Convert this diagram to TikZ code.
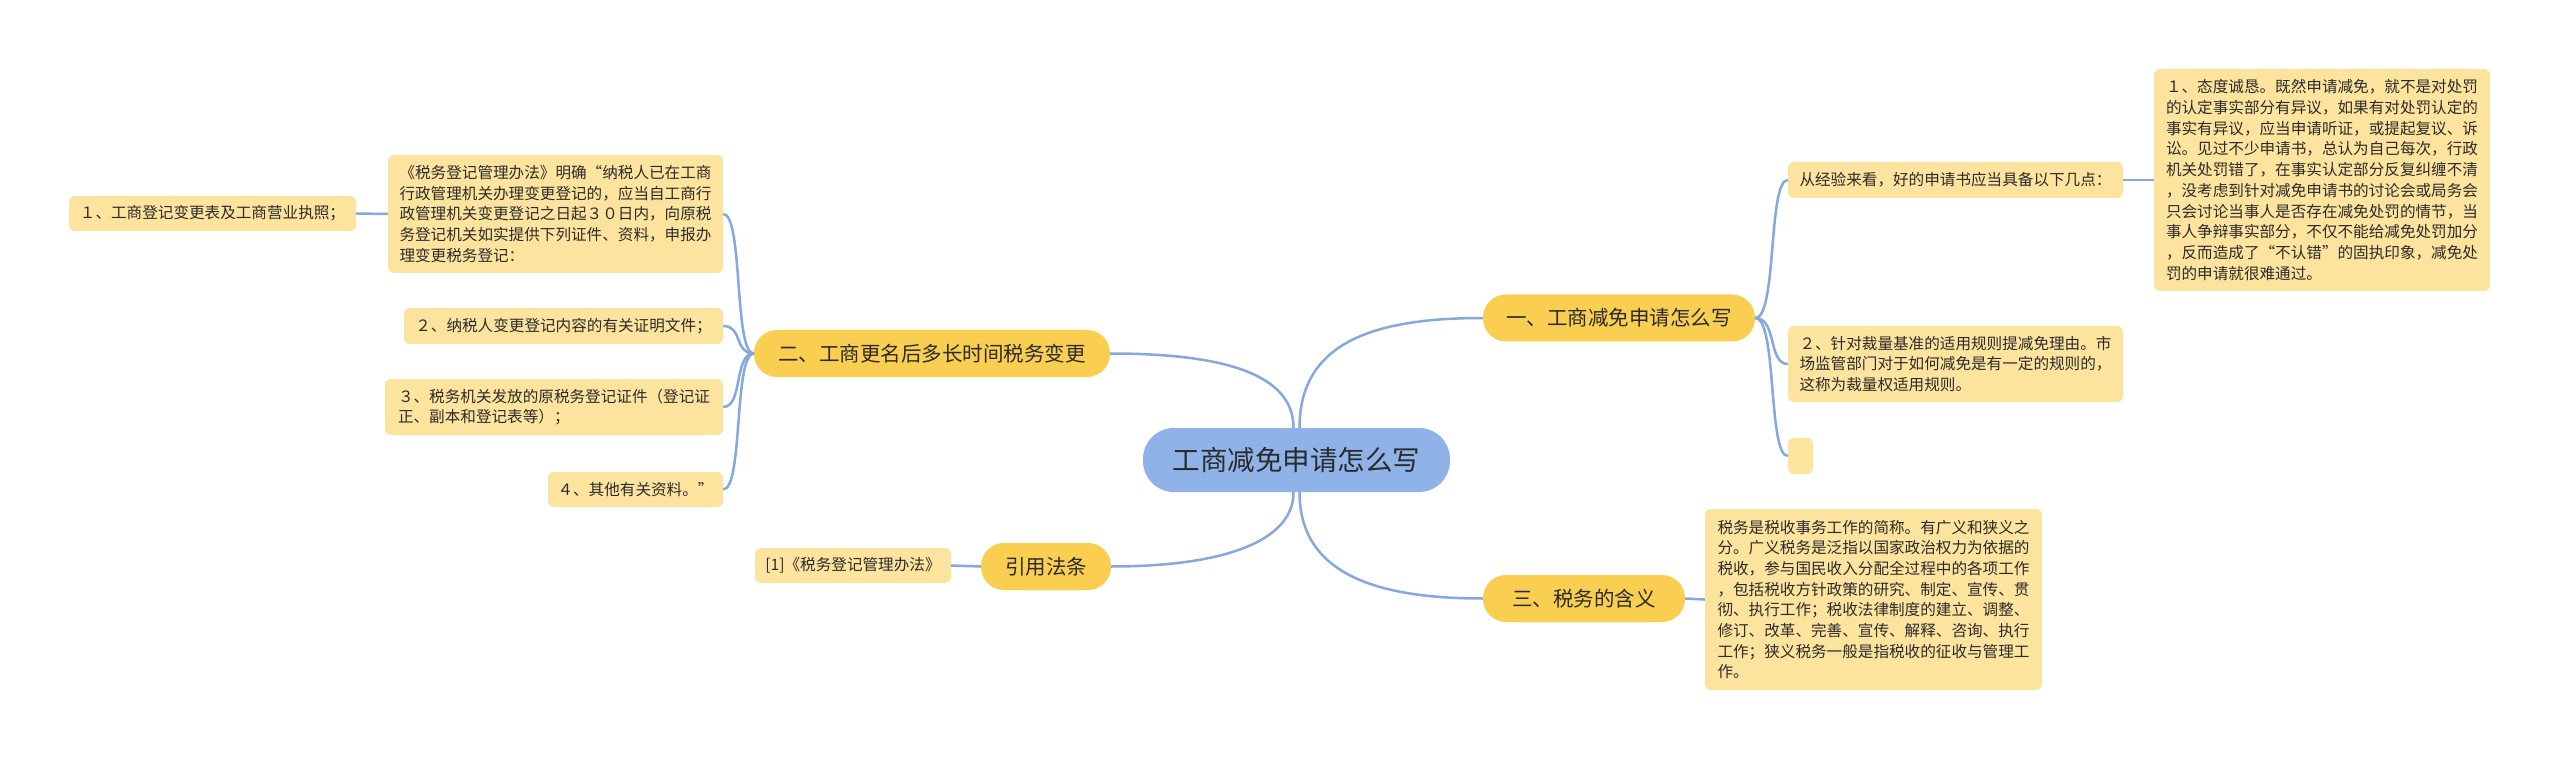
\documentclass[tikz,border=0pt]{standalone}
\usepackage{fontspec}
\setmainfont{Noto Sans CJK SC}
\definecolor{rootc}{HTML}{8FB3E9}
\definecolor{brc}{HTML}{FACE50}
\definecolor{leafc}{HTML}{FDE49E}
\definecolor{linec}{HTML}{85A8DF}
\definecolor{txt}{HTML}{2B2B2B}
\newcommand\leaffont{\fontsize{15.6}{20.7}\selectfont}
\newcommand\brfont{\fontsize{20.5}{24}\selectfont}
\newcommand\rootfont{\fontsize{27.5}{32}\selectfont}
\tikzset{
  leaf/.style={fill=leafc, rounded corners=6pt, font=\leaffont, align=left, inner sep=0pt, text=txt},
  branch/.style={fill=brc, rounded corners=23pt, font=\brfont, inner sep=0pt, minimum height=47pt, text=txt},
  rootn/.style={fill=rootc, rounded corners=31pt, font=\rootfont, inner sep=0pt, minimum height=64pt, minimum width=307pt, text=txt},
  conn/.style={draw=linec, line width=2.5pt}
}
\begin{document}
\begin{tikzpicture}[x=1pt,y=-1pt]
\fill[white] (0,0) rectangle (2560,759);
\useasboundingbox (0,0) rectangle (2560,759);

% root and branches
\node[rootn] (root) at (1296.5,460) {工商减免申请怎么写};
\node[branch, minimum width=272pt] (b1) at (1619,318) {一、工商减免申请怎么写};
\node[branch, minimum width=202pt] (b3) at (1584,598.5) {三、税务的含义};
\node[branch, minimum width=356pt] (b2) at (932,353.5) {二、工商更名后多长时间税务变更};
\node[branch, minimum width=130pt] (cite) at (1046,566.5) {引用法条};

% right leaves
\node[leaf, minimum width=335pt, minimum height=36pt] (rexp) at (1955.5,180) {从经验来看，好的申请书应当具备以下几点：};
\node[leaf, minimum width=336pt, minimum height=222pt] (r1) at (2322,180) {１、态度诚恳。既然申请减免，就不是对处罚\\的认定事实部分有异议，如果有对处罚认定的\\事实有异议，应当申请听证，或提起复议、诉\\讼。见过不少申请书，总认为自己每次，行政\\机关处罚错了，在事实认定部分反复纠缠不清\\，没考虑到针对减免申请书的讨论会或局务会\\只会讨论当事人是否存在减免处罚的情节，当\\事人争辩事实部分，不仅不能给减免处罚加分\\，反而造成了“不认错”的固执印象，减免处\\罚的申请就很难通过。};
\node[leaf, minimum width=335pt, minimum height=76pt] (r2) at (1955.5,364) {２、针对裁量基准的适用规则提减免理由。市\\场监管部门对于如何减免是有一定的规则的，\\这称为裁量权适用规则。};
\node[leaf, minimum width=25pt, minimum height=36pt] (rempty) at (1800.5,456) {};
\node[leaf, minimum width=337pt, minimum height=181pt] (rtax) at (1873.5,599.5) {税务是税收事务工作的简称。有广义和狭义之\\分。广义税务是泛指以国家政治权力为依据的\\税收，参与国民收入分配全过程中的各项工作\\，包括税收方针政策的研究、制定、宣传、贯\\彻、执行工作；税收法律制度的建立、调整、\\修订、改革、完善、宣传、解释、咨询、执行\\工作；狭义税务一般是指税收的征收与管理工\\作。};

% left leaves
\node[leaf, minimum width=335pt, minimum height=118pt] (lmain) at (555.5,214) {《税务登记管理办法》明确“纳税人已在工商\\行政管理机关办理变更登记的，应当自工商行\\政管理机关变更登记之日起３０日内，向原税\\务登记机关如实提供下列证件、资料，申报办\\理变更税务登记：};
\node[leaf, minimum width=287pt, minimum height=35pt] (l1) at (212.5,213.5) {１、工商登记变更表及工商营业执照；};
\node[leaf, minimum width=319pt, minimum height=36pt] (l2) at (563.5,326) {２、纳税人变更登记内容的有关证明文件；};
\node[leaf, minimum width=338pt, minimum height=56pt] (l3) at (554,407) {３、税务机关发放的原税务登记证件（登记证\\正、副本和登记表等）；};
\node[leaf, minimum width=175pt, minimum height=35pt] (l4) at (635.5,489.5) {４、其他有关资料。”};
\node[leaf, minimum width=196pt, minimum height=35pt] (cleaf) at (853,565.5) {[1]《税务登记管理办法》};

% connectors from root
\draw[conn] ([xshift=3pt]root.north) .. controls +(0,-85) and +(-110,0) .. (b1.west);
\draw[conn] ([xshift=-3pt]root.north) .. controls +(0,-55) and +(110,0) .. (b2.east);
\draw[conn] ([xshift=3pt]root.south) .. controls +(0,80) and +(-110,0) .. (b3.west);
\draw[conn] ([xshift=-3pt]root.south) .. controls +(0,50) and +(110,0) .. (cite.east);

% branch 1
\draw[conn] (b1.east) .. controls +(22,0) and +(-20,0) .. (rexp.west);
\draw[conn] (b1.east) .. controls +(22,0) and +(-20,0) .. (r2.west);
\draw[conn] (b1.east) .. controls +(22,0) and +(-20,0) .. (rempty.west);
\draw[conn] (rexp.east) -- (r1.west);

% branch 3
\draw[conn] (b3.east) -- (rtax.west);

% branch 2
\draw[conn] (b2.west) .. controls +(-20,0) and +(20,0) .. (lmain.east);
\draw[conn] (b2.west) .. controls +(-20,0) and +(20,0) .. (l2.east);
\draw[conn] (b2.west) .. controls +(-20,0) and +(20,0) .. (l3.east);
\draw[conn] (b2.west) .. controls +(-20,0) and +(20,0) .. (l4.east);
\draw[conn] (lmain.west) -- (l1.east);

% cite
\draw[conn] (cite.west) -- (cleaf.east);
\end{tikzpicture}
\end{document}
